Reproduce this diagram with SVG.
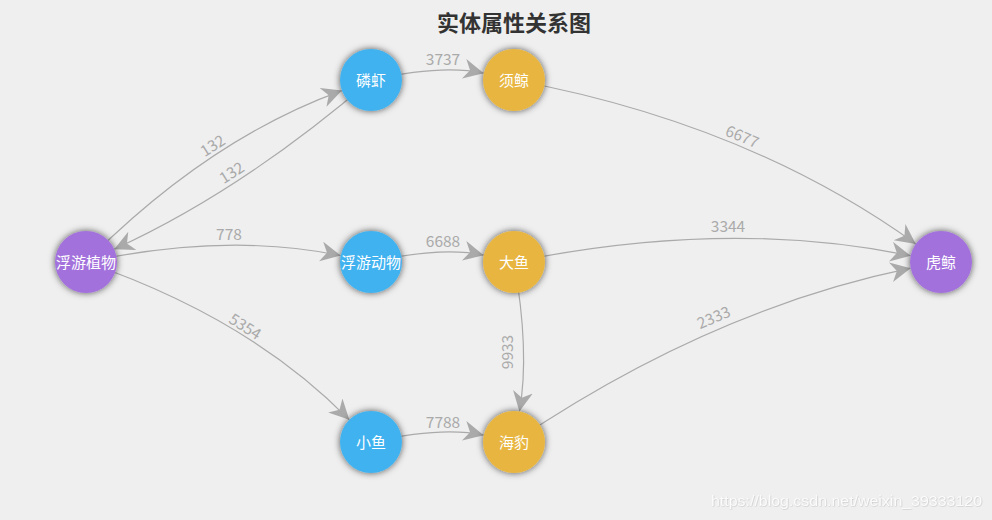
<svg xmlns="http://www.w3.org/2000/svg" width="992" height="520" viewBox="0 0 992 520">
<style>
.edge{fill:none;stroke:#aaaaaa;stroke-width:1.2;marker-end:url(#arrow)}
.elabel{font-family:"Noto Sans CJK SC","Liberation Sans",sans-serif;font-size:15.5px;fill:#aaaaaa;text-anchor:middle}
.nlabel{font-family:"Noto Sans CJK SC","Liberation Sans",sans-serif;font-size:15px;fill:#ffffff;text-anchor:middle}
.node{filter:url(#shadow)}
.plant{fill:#a371dc}
.blue{fill:#41b2ef}
.yellow{fill:#e8b641}
</style>
<defs>
<marker id="arrow" markerUnits="userSpaceOnUse" markerWidth="24" markerHeight="24" refX="20" refY="10" orient="auto" viewBox="0 0 24 24">
<path d="M0,0 L20,10 L0,20 L6,10 Z" fill="#aaaaaa"/>
</marker>
<filter id="shadow" x="-40%" y="-40%" width="180%" height="180%">
<feDropShadow dx="0" dy="0" stdDeviation="3.5" flood-color="#000" flood-opacity="0.65"/>
</filter>
<filter id="wm" x="-5%" y="-30%" width="110%" height="160%">
<feDropShadow dx="0.5" dy="0.5" stdDeviation="0.6" flood-color="#999" flood-opacity="0.6"/>
</filter>
</defs>
<rect width="992" height="520" fill="#efefef"/>
<text x="514" y="31" font-family="'Noto Sans CJK SC','Liberation Sans',sans-serif" font-size="22" font-weight="bold" fill="#333333" text-anchor="middle">实体属性关系图</text>

<g id="connectors">
<path class="edge" d="M86,262 Q208.1,139 341.9,90.6"/>
<path class="edge" d="M371,80 Q241.4,191.2 114.2,249.2"/>
<path class="edge" d="M86,262 Q228.5,232 340.7,255.6"/>
<path class="edge" d="M86,262 Q249.9,318.2 349.3,419.8"/>
<path class="edge" d="M371,80 Q442.5,64 483.7,73.2"/>
<path class="edge" d="M371,262 Q442.5,246 483.7,255.2"/>
<path class="edge" d="M371,442 Q442.5,426 483.7,435.2"/>
<path class="edge" d="M514,262 Q530,352 519.4,411.5"/>
<path class="edge" d="M514,80 Q747.9,123.2 915.8,243.9"/>
<path class="edge" d="M514,262 Q727.5,218 910.6,255.7"/>
<path class="edge" d="M514,442 Q709.7,309.6 910.6,268.2"/>
<text class="elabel" transform="translate(213,146) rotate(-32.6)" y="5">132</text>
<text class="elabel" transform="translate(232,173) rotate(-32.6)" y="5">132</text>
<text class="elabel" x="229" y="240">778</text>
<text class="elabel" transform="translate(245,327) rotate(32.3)" y="5">5354</text>
<text class="elabel" x="443" y="65">3737</text>
<text class="elabel" x="443" y="247">6688</text>
<text class="elabel" x="443" y="428">7788</text>
<text class="elabel" transform="translate(508,352) rotate(-90)" y="5">9933</text>
<text class="elabel" transform="translate(742,137) rotate(23)" y="5">6677</text>
<text class="elabel" x="728" y="232">3344</text>
<text class="elabel" transform="translate(714,318) rotate(-23)" y="5">2333</text>
</g>

<g id="n-fuyouzhiwu"><circle class="node plant" cx="86" cy="262" r="31"/><text class="nlabel" x="86" y="267.5">浮游植物</text></g>
<g id="n-linxia"><circle class="node blue" cx="371" cy="80" r="31"/><text class="nlabel" x="371" y="85.5">磷虾</text></g>
<g id="n-fuyoudongwu"><circle class="node blue" cx="371" cy="262" r="31"/><text class="nlabel" x="371" y="267.5">浮游动物</text></g>
<g id="n-xiaoyu"><circle class="node blue" cx="371" cy="442" r="31"/><text class="nlabel" x="371" y="447.5">小鱼</text></g>
<g id="n-xujing"><circle class="node yellow" cx="514" cy="80" r="31"/><text class="nlabel" x="514" y="85.5">须鲸</text></g>
<g id="n-dayu"><circle class="node yellow" cx="514" cy="262" r="31"/><text class="nlabel" x="514" y="267.5">大鱼</text></g>
<g id="n-haibao"><circle class="node yellow" cx="514" cy="442" r="31"/><text class="nlabel" x="514" y="447.5">海豹</text></g>
<g id="n-hujing"><circle class="node plant" cx="941" cy="262" r="31"/><text class="nlabel" x="941" y="267.5">虎鲸</text></g>

<text x="711" y="506" font-family="'Liberation Sans',sans-serif" font-size="15" fill="#ffffff" fill-opacity="0.9" textLength="271" lengthAdjust="spacingAndGlyphs" filter="url(#wm)">https://blog.csdn.net/weixin_39333120</text>
</svg>
